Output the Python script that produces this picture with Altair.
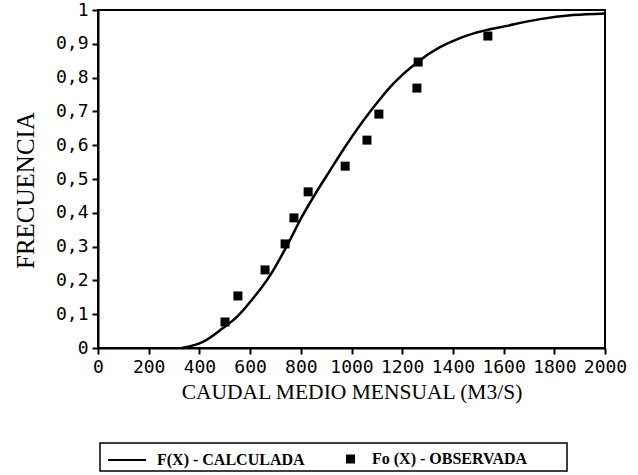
import altair as alt
import pandas as pd

# Curve F(X) - calculated
curve_x = [330, 414, 493, 548, 612, 679, 757, 797, 849, 915, 981, 1047, 1112,
           1165, 1258, 1349, 1428, 1479, 1613, 1744, 1874, 2000]
curve_f = [0.0, 0.018, 0.059, 0.092, 0.147, 0.215, 0.319, 0.378, 0.446, 0.525,
           0.602, 0.673, 0.736, 0.782, 0.845, 0.89, 0.917, 0.93, 0.953, 0.973,
           0.985, 0.99]

# Observed Fo(X)
obs_x = [501, 552, 659, 738, 773, 829, 975, 1061, 1108, 1258, 1263, 1538]
obs_f = [0.077, 0.154, 0.231, 0.308, 0.385, 0.462, 0.538, 0.615, 0.692,
         0.769, 0.846, 0.923]

CALC = "F(X) - CALCULADA"
OBS = "Fo (X) - OBSERVADA"

curve_df = pd.DataFrame({"x": curve_x, "f": curve_f, "serie": CALC})
obs_df = pd.DataFrame({"x": obs_x, "f": obs_f, "serie": OBS})

xscale = alt.Scale(domain=[0, 2000], nice=False, zero=False)
yscale = alt.Scale(domain=[0, 1], nice=False)

xaxis = alt.Axis(
    title="CAUDAL MEDIO MENSUAL (M3/S)",
    values=list(range(0, 2001, 200)),
    format="d",
    labelFlush=False, labelOverlap=False,
    labelFont="DejaVu Sans Mono", labelFontSize=18, labelColor="black",
    labelPadding=4,
    tickSize=6, tickWidth=2, tickColor="black",
    domainColor="black", domainWidth=2,
    grid=False,
    titleFont="Liberation Serif", titleFontSize=21.5, titleFontWeight="normal",
    titleColor="black", titleY=50, titleBaseline="alphabetic",
)
yaxis = alt.Axis(
    title="FRECUENCIA",
    values=[i / 10 for i in range(11)],
    labelExpr="replace(format(datum.value, '~g'), '.', ',')",
    labelFont="DejaVu Sans Mono", labelFontSize=18, labelColor="black",
    labelPadding=4, labelFlush=False, labelOverlap=False,
    tickSize=6, tickWidth=2, tickColor="black",
    domainColor="black", domainWidth=2,
    grid=False,
    titleFont="Liberation Serif", titleFontSize=25, titleFontWeight="normal",
    titleColor="black", titleX=-73, titleY=180, titleAngle=-90,
    titleAlign="center", titleBaseline="middle",
)

line = alt.Chart(curve_df).mark_line(
    color="black", strokeWidth=2.5, interpolate="monotone"
).encode(
    x=alt.X("x:Q", scale=xscale, axis=xaxis),
    y=alt.Y("f:Q", scale=yscale, axis=yaxis),
    color=alt.Color(
        "serie:N",
        scale=alt.Scale(domain=[CALC], range=["black"]),
        legend=alt.Legend(
            title=None, orient="none", legendX=9, legendY=430, padding=0,
            symbolType="stroke", symbolSize=1444, symbolStrokeWidth=2,
            symbolStrokeColor="black",
            labelFont="Liberation Serif", labelFontSize=16,
            labelFontWeight="bold", labelColor="black", labelOffset=10,
        ),
    ),
)

pts = alt.Chart(obs_df).mark_point(
    shape="square", filled=True, color="black", size=81, opacity=1
).encode(
    x=alt.X("x:Q", scale=xscale, axis=xaxis),
    y=alt.Y("f:Q", scale=yscale, axis=yaxis),
    shape=alt.Shape(
        "serie:N",
        scale=alt.Scale(domain=[OBS], range=["square"]),
        legend=alt.Legend(
            title=None, orient="none", legendX=244.5, legendY=441, padding=0,
            symbolSize=81, symbolFillColor="black", symbolStrokeColor="black",
            symbolStrokeWidth=0, symbolOpacity=1,
            labelFont="Liberation Serif", labelFontSize=16,
            labelFontWeight="bold", labelColor="black", labelOffset=13.5,
        ),
    ),
)

box = alt.Chart(pd.DataFrame({"k": [0]})).mark_rect(
    fill=None, stroke="black", strokeWidth=1.5
).encode(
    x=alt.value(2), x2=alt.value(469), y=alt.value(433), y2=alt.value(461)
)

chart = alt.layer(line, pts, box).properties(
    width=507, height=338,
    autosize=alt.AutoSizeParams(type="none"),
    padding={"left": 98, "top": 10, "right": 33, "bottom": 127},
    background="white",
).configure_view(stroke="black", strokeWidth=2).resolve_legend(
    color="independent", shape="independent"
)

chart.save("out.html", embed_options={"renderer": "svg", "actions": False})
